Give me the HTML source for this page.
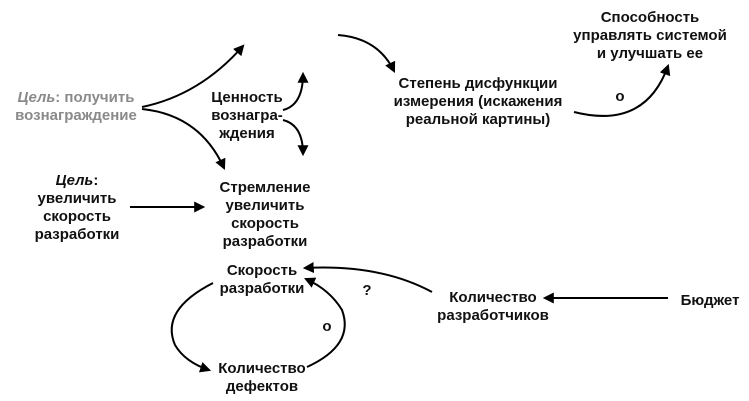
<!DOCTYPE html>
<html><head><meta charset="utf-8"><style>
html,body{margin:0;padding:0;background:#fff;}
svg{display:block}
text{font-family:"Liberation Sans",Arial,sans-serif;font-weight:bold;font-size:15px;fill:#111;text-anchor:middle}
.g{fill:#8a8a8a}
path{fill:none;stroke:#000;stroke-width:2}
</style></head><body>
<svg width="749" height="401" viewBox="0 0 749 401" xmlns="http://www.w3.org/2000/svg">
<defs>
<marker id="b" viewBox="0 0 10 10" refX="8" refY="5" markerWidth="11" markerHeight="11" orient="auto" markerUnits="userSpaceOnUse"><path d="M0,0 L10,5 L0,10 z" style="fill:#000;stroke:none"/></marker></defs>

<text x="76" y="102" class="g"><tspan font-style="italic">Цель</tspan>: получить</text>
<text x="76" y="120" class="g">вознаграждение</text>
<path d="M142,107 Q200,95 243,46" marker-end="url(#b)"/>
<path d="M142,109 Q200,115 224,168" marker-end="url(#b)"/>

<text x="247" y="102">Ценность</text>
<text x="247" y="120">вознагра-</text>
<text x="247" y="138">ждения</text>
<path d="M283,110 Q303,105 303,74" marker-end="url(#b)"/>
<path d="M283,120 Q303,125 303,154" marker-end="url(#b)"/>

<text x="265" y="192">Стремление</text>
<text x="265" y="210">увеличить</text>
<text x="265" y="228">скорость</text>
<text x="265" y="246">разработки</text>

<text x="77" y="185"><tspan font-style="italic">Цель</tspan>:</text>
<text x="77" y="203">увеличить</text>
<text x="77" y="221">скорость</text>
<text x="77" y="239">разработки</text>
<path d="M130,207 L203,207" marker-end="url(#b)"/>

<path d="M338,35 Q378,38 394,71" marker-end="url(#b)"/>
<text x="478" y="88">Степень дисфункции</text>
<text x="478" y="106">измерения (искажения</text>
<text x="478" y="124">реальной картины)</text>
<path d="M574,112 Q645,130 668,66" marker-end="url(#b)"/>
<text x="620" y="101">о</text>

<text x="650" y="22">Способность</text>
<text x="650" y="40">управлять системой</text>
<text x="650" y="58">и улучшать ее</text>

<text x="262" y="275">Скорость</text>
<text x="262" y="293">разработки</text>
<text x="262" y="373">Количество</text>
<text x="262" y="391">дефектов</text>
<path d="M213,283 Q160,310 175,345 Q185,362 209,370" marker-end="url(#b)"/>
<path d="M307,367 Q355,345 342,310 Q330,290 306,279" marker-end="url(#b)"/>
<text x="327" y="331">о</text>

<text x="493" y="302">Количество</text>
<text x="493" y="320">разработчиков</text>
<path d="M432,292 Q380,264 305,268" marker-end="url(#b)"/>
<text x="367" y="295">?</text>

<text x="710" y="305">Бюджет</text>
<path d="M668,298 L545,298" marker-end="url(#b)"/>
</svg>
</body></html>
